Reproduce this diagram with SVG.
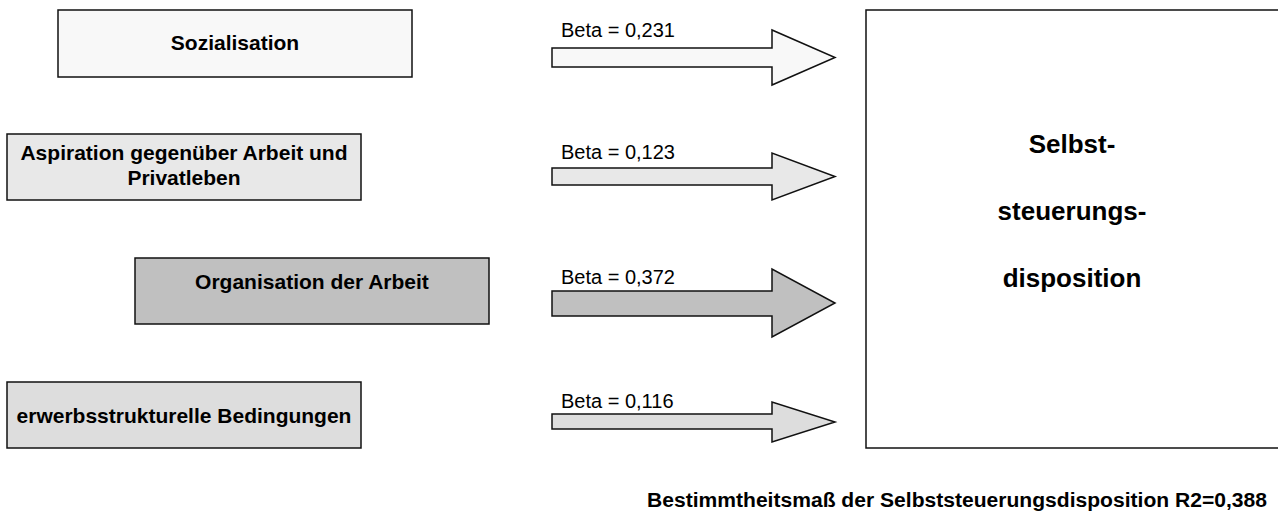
<svg xmlns="http://www.w3.org/2000/svg" width="1278" height="513" viewBox="0 0 1278 513">
<style>
  .box { stroke: #111; stroke-width: 1.5; }
  .arrow { stroke: #111; stroke-width: 1.5; stroke-linejoin: miter; }
  .lbl { font-family: "Liberation Sans", Arial, sans-serif; font-weight: bold; font-size: 21px; fill: #000; text-anchor: middle; }
  .big { font-family: "Liberation Sans", Arial, sans-serif; font-weight: bold; font-size: 26px; fill: #000; text-anchor: middle; }
  .beta { font-family: "Liberation Sans", Arial, sans-serif; font-size: 20px; fill: #000; }
  .foot { font-family: "Liberation Sans", Arial, sans-serif; font-weight: bold; font-size: 19.5px; fill: #000; }
</style>
<rect width="1278" height="513" fill="#fff"/>
<g id="node-sozialisation">
  <rect class="box" x="58" y="10" width="354" height="67" fill="#f8f8f8"/>
  <text class="lbl" x="235" y="50">Sozialisation</text>
</g>
<g id="node-aspiration">
  <rect class="box" x="7" y="134" width="354" height="66" fill="#e8e8e8"/>
  <text class="lbl" x="184" y="160">Aspiration gegenüber Arbeit und</text>
  <text class="lbl" x="184" y="185">Privatleben</text>
</g>
<g id="node-organisation">
  <rect class="box" x="135" y="258" width="354" height="66" fill="#c0c0c0"/>
  <text class="lbl" x="312" y="289">Organisation der Arbeit</text>
</g>
<g id="node-erwerb">
  <rect class="box" x="7" y="382" width="354" height="66" fill="#dddddd"/>
  <text class="lbl" x="184" y="423">erwerbsstrukturelle Bedingungen</text>
</g>
<g id="node-selbststeuerung">
  <rect class="box" x="866" y="10" width="430" height="438" fill="#fff"/>
  <text class="big" x="1072" y="153">Selbst-</text>
  <text class="big" x="1072" y="220">steuerungs-</text>
  <text class="big" x="1072" y="287">disposition</text>
</g>
<g id="connectors">
  <path class="arrow" fill="#f8f8f8" d="M552,48 L772,48 L772,30 L835,57.5 L772,85 L772,67 L552,67 Z"/>
  <path class="arrow" fill="#e8e8e8" d="M552,168 L772,168 L772,153 L835,176.5 L772,200 L772,185 L552,185 Z"/>
  <path class="arrow" fill="#c0c0c0" d="M552,291 L772,291 L772,269 L835,303 L772,337 L772,316 L552,316 Z"/>
  <path class="arrow" fill="#dddddd" d="M552,414 L772,414 L772,402 L835,422 L772,442 L772,429 L552,429 Z"/>
  <text class="beta" x="561" y="37">Beta = 0,231</text>
  <text class="beta" x="561" y="159">Beta = 0,123</text>
  <text class="beta" x="561" y="284">Beta = 0,372</text>
  <text class="beta" x="561" y="408">Beta = 0,116</text>
</g>
<text class="foot" x="647" y="507" textLength="620" lengthAdjust="spacingAndGlyphs">Bestimmtheitsmaß der Selbststeuerungsdisposition R2=0,388</text>
</svg>
